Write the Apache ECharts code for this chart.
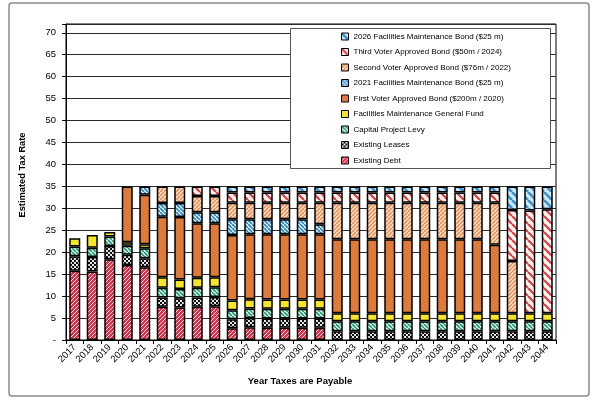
<!DOCTYPE html>
<html>
<head>
<meta charset="utf-8">
<script src="https://cdn.jsdelivr.net/npm/echarts@6/dist/echarts.min.js"></script>
<style>
html,body{margin:0;padding:0;background:#fff;}
#chart{width:598px;height:407px;}
</style>
</head>
<body>
<div id="chart"></div>
<script>
const years = ['2017','2018','2019','2020','2021','2022','2023','2024','2025','2026','2027','2028','2029','2030','2031','2032','2033','2034','2035','2036','2037','2038','2039','2040','2041','2042','2043','2044'];

const existingDebt   = [15.8,15.6,18.4,17.1,16.6,7.6,7.4,7.6,7.7,2.7,2.9,2.8,2.8,2.8,2.8,null,null,null,null,null,null,null,null,null,null,null,null,null];
const existingLeases = [3.3,3.3,3.0,2.3,2.0,2.1,2.1,2.1,2.1,2.0,2.1,2.1,2.1,2.1,2.1,2.0,2.0,2.0,2.0,2.0,2.0,2.0,2.0,2.0,2.0,2.0,2.0,2.0];
const capitalLevy    = [2.2,2.1,2.2,2.1,2.3,2.2,2.1,2.2,2.2,2.1,2.2,2.2,2.2,2.2,2.2,2.3,2.3,2.3,2.3,2.3,2.3,2.3,2.3,2.3,2.3,2.3,2.3,2.3];
const fmGeneralFund  = [1.9,2.9,1.0,0.8,0.9,2.4,2.2,2.3,2.3,2.2,2.1,2.1,2.1,2.1,2.1,1.8,1.8,1.8,1.8,1.8,1.8,1.8,1.8,1.8,1.8,1.8,1.8,1.8];
const firstVoter     = [null,null,null,12.7,11.3,13.8,14.2,12.4,12.3,14.9,14.8,14.9,14.9,14.9,14.9,16.85,16.85,16.85,16.85,16.85,16.85,16.85,16.85,16.85,15.6,null,null,null];
const fmBond2021     = [null,null,null,null,1.9,3.1,3.2,2.5,2.5,3.6,3.4,3.4,3.4,3.4,2.3,null,null,null,null,null,null,null,null,null,null,null,null,null];
const secondVoter    = [null,null,null,null,null,3.8,3.8,3.7,3.7,3.8,3.8,3.8,3.8,3.8,4.9,8.35,8.35,8.35,8.35,8.35,8.35,8.35,8.35,8.35,9.6,11.9,null,null];
const thirdVoter     = [null,null,null,null,null,null,null,2.2,2.2,2.3,2.3,2.3,2.3,2.3,2.3,2.3,2.3,2.3,2.3,2.3,2.3,2.3,2.3,2.3,2.3,11.6,23.4,23.7];
const fmBond2026     = [null,null,null,null,null,null,null,null,null,1.4,1.4,1.4,1.4,1.4,1.4,1.4,1.4,1.4,1.4,1.4,1.4,1.4,1.4,1.4,1.4,5.4,5.5,5.2];

const seriesNames = [
  'Existing Debt',
  'Existing Leases',
  'Capital Project Levy',
  'Facilities Maintenance General Fund',
  'First Voter Approved Bond ($200m / 2020)',
  '2021 Facilities Maintenance Bond ($25 m)',
  'Second Voter Approved Bond ($76m / 2022)',
  'Third Voter Approved Bond ($50m / 2024)',
  '2026 Facilities Maintenance Bond ($25 m)'
];
const seriesData = [existingDebt, existingLeases, capitalLevy, fmGeneralFund, firstVoter, fmBond2021, secondVoter, thirdVoter, fmBond2026];

function stripes(bg, fg, s, w, dir) {
  const c = document.createElement('canvas');
  c.width = s; c.height = s;
  const ctx = c.getContext('2d');
  ctx.fillStyle = bg; ctx.fillRect(0, 0, s, s);
  ctx.strokeStyle = fg; ctx.lineWidth = w;
  ctx.beginPath();
  for (let k = -1; k <= 1; k++) {
    if (dir === '/') { ctx.moveTo(k * s, s); ctx.lineTo(k * s + s, 0); }
    else { ctx.moveTo(k * s, 0); ctx.lineTo(k * s + s, s); }
  }
  ctx.stroke();
  return { image: c, repeat: 'repeat' };
}
function checker(a, b) {
  const c = document.createElement('canvas');
  c.width = 4; c.height = 4;
  const ctx = c.getContext('2d');
  ctx.fillStyle = a; ctx.fillRect(0, 0, 4, 4);
  ctx.fillStyle = b; ctx.fillRect(0, 0, 2, 2); ctx.fillRect(2, 2, 2, 2);
  return { image: c, repeat: 'repeat' };
}

const fills = [
  stripes('#e62e48', '#ffffff', 4, 0.9, '/'),
  checker('#111111', '#e6e6e6'),
  stripes('#ffffff', '#1ea370', 4, 1.8, '\\'),
  '#f6e528',
  '#e07a38',
  stripes('#ffffff', '#2a8cc9', 4, 1.9, '\\'),
  stripes('#fbe0c8', '#ea8c50', 4, 1.5, '/'),
  stripes('#fff4ea', '#e23b48', 8, 2.2, '\\'),
  stripes('#cfe6f4', '#3793cf', 8, 2.6, '\\')
];

const FONT = "'Liberation Sans', Arial, sans-serif";

const series = seriesNames.map((name, i) => ({
  name: name,
  type: 'bar',
  stack: 'total',
  barWidth: 11,
  data: seriesData[i],
  itemStyle: { color: fills[i], borderColor: '#000', borderWidth: 1.5 },
  emphasis: { disabled: true }
}));

const chart = echarts.init(document.getElementById('chart'), null, { renderer: 'canvas' });
chart.setOption({
  animation: false,
  backgroundColor: '#fff',
  textStyle: { fontFamily: FONT },
  grid: { left: 66, right: 42, top: 24, bottom: 67, show: true, borderColor: '#000', borderWidth: 1, backgroundColor: 'transparent' },
  legend: {
    orient: 'vertical',
    left: 341,
    top: 31,
    icon: 'rect',
    itemWidth: 7,
    itemHeight: 7,
    itemGap: 4.5,
    padding: 0,
    selectedMode: false,
    data: seriesNames.slice().reverse(),
    itemStyle: { borderColor: '#000', borderWidth: 1 },
    textStyle: { fontFamily: FONT, fontSize: 8, color: '#000', lineHeight: 11 },
    z: 10
  },
  xAxis: {
    type: 'category',
    data: years,
    axisLine: { lineStyle: { color: '#000', width: 1 } },
    axisTick: { show: true, alignWithLabel: false, length: 4, lineStyle: { color: '#000' } },
    axisLabel: { rotate: 45, margin: 6, fontSize: 9.5, color: '#000', fontFamily: FONT, interval: 0 },
    splitLine: { show: false }
  },
  yAxis: {
    type: 'value',
    min: 0,
    max: 72,
    interval: 5,
    axisLine: { show: true, lineStyle: { color: '#000', width: 1 } },
    axisTick: { show: true, inside: false, length: 4, lineStyle: { color: '#000' } },
    axisLabel: {
      margin: 10, fontSize: 9.5, color: '#000', fontFamily: FONT,
      formatter: function (v) { return v === 0 ? '-' : (v > 70 ? '' : String(v)); }
    },
    splitLine: { show: true, lineStyle: { color: '#2a2a2a', width: 1 } }
  },
  graphic: [
    { type: 'rect', z: -1, shape: { x: 9, y: 3, width: 580, height: 393, r: 3 }, style: { fill: 'none', stroke: '#8c8c8c', lineWidth: 1.5 } },
    { type: 'rect', z: 5, shape: { x: 290.5, y: 28.5, width: 260, height: 140 }, style: { fill: '#fff', stroke: '#555', lineWidth: 1 } },
    { type: 'text', z: 5, x: 22, y: 175, rotation: Math.PI / 2, style: { text: 'Estimated Tax Rate', font: "bold 9.3px 'Liberation Sans', Arial, sans-serif", fill: '#000', textAlign: 'center', textVerticalAlign: 'middle' } },
    { type: 'text', z: 5, x: 300, y: 381, style: { text: 'Year Taxes are Payable', font: "bold 9.5px 'Liberation Sans', Arial, sans-serif", fill: '#000', textAlign: 'center', textVerticalAlign: 'middle' } }
  ],
  series: series
});
</script>
</body>
</html>
